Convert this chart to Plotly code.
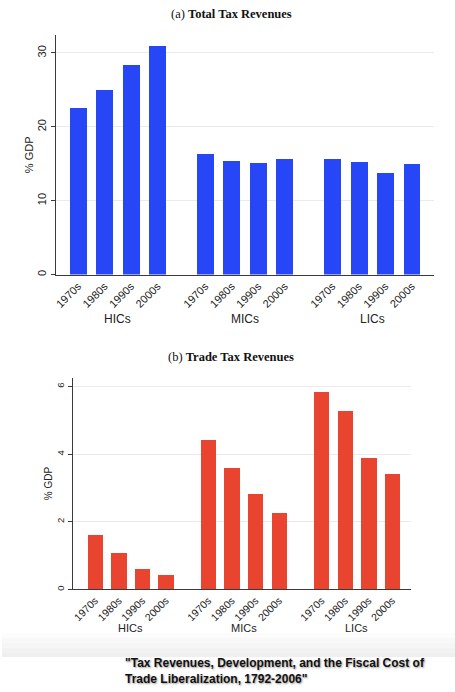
import plotly.graph_objects as go

groups = ["HICs", "MICs", "LICs"]
decades = ["1970s", "1980s", "1990s", "2000s"]

total_hics = [22.5, 25.0, 28.4, 30.9]
total_mics = [16.3, 15.4, 15.1, 15.7]
total_lics = [15.6, 15.2, 13.7, 15.0]

trade_hics = [1.63, 1.09, 0.62, 0.44]
trade_mics = [4.44, 3.61, 2.82, 2.28]
trade_lics = [5.86, 5.27, 3.89, 3.41]

W, H = 455, 692
GAP = 0.8
positions = [g * (len(decades) + GAP) + i for g in range(len(groups)) for i in range(len(decades))]
group_centers = [g * (len(decades) + GAP) + (len(decades) - 1) / 2 for g in range(len(groups))]
ticktext = decades * len(groups)

total_vals = total_hics + total_mics + total_lics
trade_vals = trade_hics + trade_mics + trade_lics

BLUE = "#2747f7"
RED = "#e8442f"
AXC = "#3a3a3a"
GRID = "#ebebeb"
SANS = "Liberation Sans, Arial, sans-serif"
SERIF = "Liberation Serif, Times New Roman, serif"


def px_x(x):
    return x / W


def px_y(y):
    return 1 - y / H


fig = go.Figure()
fig.add_trace(go.Bar(x=positions, y=total_vals, marker=dict(color=BLUE, line=dict(width=0)),
                     width=0.64, xaxis="x", yaxis="y", showlegend=False, hoverinfo="skip"))
fig.add_trace(go.Bar(x=positions, y=trade_vals, marker=dict(color=RED, line=dict(width=0)),
                     width=0.65, xaxis="x2", yaxis="y2", showlegend=False, hoverinfo="skip"))

common_x = dict(tickvals=positions, ticktext=ticktext, tickangle=-45, showline=True,
                linecolor=AXC, linewidth=1, showgrid=False, zeroline=False, ticks="")
common_y = dict(showline=True, linecolor=AXC, linewidth=1, ticks="outside", ticklen=4,
                tickcolor=AXC, gridcolor=GRID, gridwidth=1, zeroline=False, tickangle=-90)

fig.update_layout(
    width=W, height=H,
    margin=dict(l=0, r=0, t=0, b=0),
    paper_bgcolor="white", plot_bgcolor="white",
    bargap=0,
    xaxis=dict(domain=[px_x(54), px_x(434)], range=[-0.844, 13.444], anchor="y",
               tickfont=dict(family=SANS, size=11, color="#222"), **common_x),
    yaxis=dict(domain=[px_y(275), px_y(35)], range=[0, 32.43], anchor="x",
               tickvals=[0, 10, 20, 30], tickfont=dict(family=SANS, size=11, color="#222"),
               title=dict(text="% GDP", font=dict(family=SANS, size=11, color="#222"), standoff=0),
               **common_y),
    xaxis2=dict(domain=[px_x(71), px_x(411)], range=[-0.95, 13.41], anchor="y2",
                tickfont=dict(family=SANS, size=10.5, color="#222"), **common_x),
    yaxis2=dict(domain=[px_y(590.3), px_y(378.3)], range=[0, 6.26], anchor="x2",
                tickvals=[0, 2, 4, 6], tickfont=dict(family=SANS, size=9.5, color="#222"),
                title=dict(text="% GDP", font=dict(family=SANS, size=10, color="#222"), standoff=0),
                **common_y),
)

annotations = []
for gname, cx in zip(groups, group_centers):
    annotations.append(dict(text=gname, x=cx, xref="x", y=px_y(319), yref="paper",
                            showarrow=False, xanchor="center", yanchor="middle",
                            font=dict(family=SANS, size=12, color="#222")))
    annotations.append(dict(text=gname, x=cx, xref="x2", y=px_y(628.7), yref="paper",
                            showarrow=False, xanchor="center", yanchor="middle",
                            font=dict(family=SANS, size=11, color="#222")))

annotations.append(dict(text="(a) <b>Total Tax Revenues</b>", x=px_x(231), y=px_y(14),
                        xref="paper", yref="paper", showarrow=False, xanchor="center",
                        yanchor="middle", font=dict(family=SERIF, size=12.5, color="#111")))
annotations.append(dict(text="(b) <b>Trade Tax Revenues</b>", x=px_x(230), y=px_y(357.5),
                        xref="paper", yref="paper", showarrow=False, xanchor="center",
                        yanchor="middle", font=dict(family=SERIF, size=12.5, color="#111")))
annotations.append(dict(text="\"Tax Revenues, Development, and the Fiscal Cost of<br>Trade Liberalization, 1792-2006\"",
                        x=px_x(122), y=px_y(655), xref="paper", yref="paper", showarrow=False,
                        xanchor="left", yanchor="top", align="left",
                        font=dict(family=SANS, size=12, color="#111", weight="bold",
                                  shadow="1px 1px 2px #999")))
fig.update_layout(annotations=annotations)

# soft grey band above the caption
shades = ["#fcfcfc", "#f8f8f8", "#f5f5f5", "#f2f2f2", "#efefef"]
top, bottom = 634, 658
step = (bottom - top) / len(shades)
shapes = []
for k, c in enumerate(shades):
    shapes.append(dict(type="rect", xref="paper", yref="paper", x0=0, x1=1,
                       y0=px_y(top + (k + 1) * step), y1=px_y(top + k * step),
                       fillcolor=c, line=dict(width=0), layer="below"))
fig.update_layout(shapes=shapes)

fig.write_html(
    "out.html",
    config={"displayModeBar": False},
    post_script="document.body.style.margin='0';document.body.style.overflow='hidden';",
)
